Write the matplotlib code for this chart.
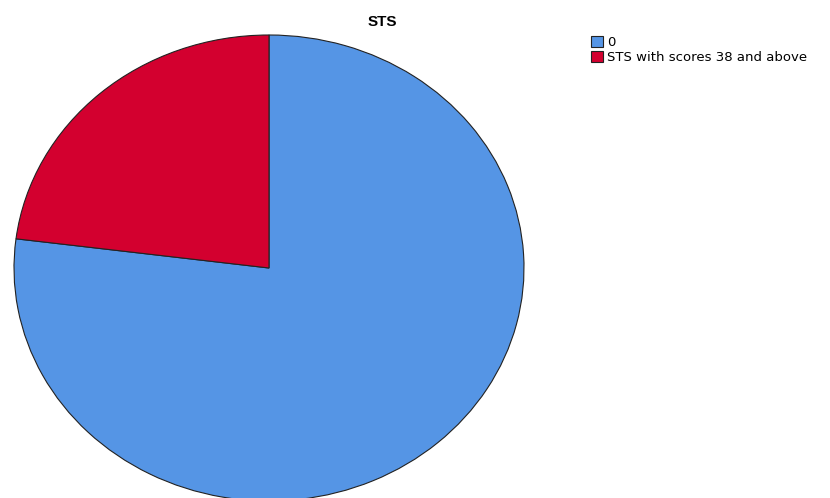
import matplotlib.pyplot as plt
from matplotlib.patches import Patch

# dados do grafico
labels = ["0", "STS with scores 38 and above"]
values = [77, 23]
colors = ["#5595e5", "#d3002f"]

fig = plt.figure(figsize=(8.3, 4.98), dpi=100)
ax = fig.add_axes([14/830, 1 - 501/498, 510/830, 466/498])
ax.pie(values, colors=colors, startangle=90, counterclock=False,
       wedgeprops=dict(edgecolor="#222222", linewidth=0.8))
ax.set_aspect("auto")
ax.set_xlim(-1, 1)
ax.set_ylim(-1, 1)
ax.axis("off")

fig.text(382/830, 1 - 22/498, "STS", ha="center", va="center",
         fontsize=11, fontweight="bold", family="Liberation Sans")

handles = [Patch(facecolor=c, edgecolor="#222222", linewidth=0.8) for c in colors]
fig.legend(handles, labels, loc="upper left", bbox_to_anchor=(591/830, 1 - 36/498),
           frameon=False, handlelength=0.9, handleheight=0.9,
           handletextpad=0.3, labelspacing=0.12, borderpad=0, borderaxespad=0,
           prop={"family": "DejaVu Sans", "size": 9.5})

fig.savefig("out.png", dpi=100)
